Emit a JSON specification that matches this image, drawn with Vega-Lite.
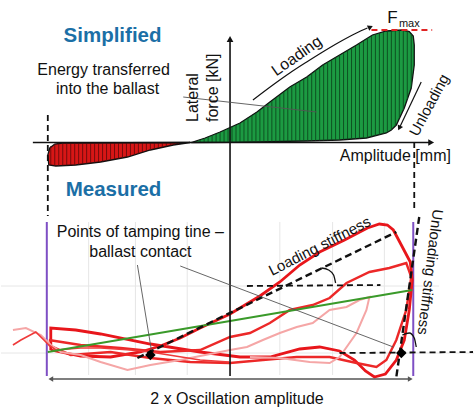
{
  "$schema": "https://vega.github.io/schema/vega-lite/v6.json",
  "width": 475,
  "height": 407,
  "autosize": {"type": "fit", "contains": "padding"},
  "padding": 0,
  "background": "white",
  "config": {"view": {"stroke": null}, "font": "Liberation Sans"},
  "datasets": {
    "grid": [
      {"x": 88, "y": 222, "x2": 88, "y2": 375},
      {"x": 135, "y": 222, "x2": 135, "y2": 375},
      {"x": 187, "y": 222, "x2": 187, "y2": 375},
      {"x": 280, "y": 222, "x2": 280, "y2": 375},
      {"x": 333, "y": 222, "x2": 333, "y2": 375},
      {"x": 385, "y": 222, "x2": 385, "y2": 375},
      {"x": 0, "y": 286, "x2": 440, "y2": 286},
      {"x": 0, "y": 353, "x2": 475, "y2": 353}
    ],
    "green": [
      {"x": 191, "y": 142.5}, {"x": 205, "y": 138}, {"x": 220, "y": 132}, {"x": 240, "y": 123},
      {"x": 257, "y": 112}, {"x": 270, "y": 102}, {"x": 290, "y": 87}, {"x": 307, "y": 77},
      {"x": 323, "y": 65}, {"x": 340, "y": 55}, {"x": 357, "y": 45}, {"x": 373, "y": 35},
      {"x": 387, "y": 31}, {"x": 403, "y": 30}, {"x": 410, "y": 31.5}, {"x": 414, "y": 36},
      {"x": 415, "y": 45}, {"x": 415, "y": 65}, {"x": 412, "y": 88}, {"x": 405, "y": 108},
      {"x": 397, "y": 125}, {"x": 392, "y": 130}, {"x": 387, "y": 133}, {"x": 367, "y": 138},
      {"x": 340, "y": 140}, {"x": 307, "y": 141}, {"x": 270, "y": 141.7}, {"x": 230, "y": 142.3},
      {"x": 191, "y": 142.5}
    ],
    "greenHatch": [
      {"x": 196, "y": 140.9, "y2": 142.4}, {"x": 200, "y": 139.6, "y2": 142.4}, {"x": 204, "y": 138.3, "y2": 142.4},
      {"x": 208, "y": 136.8, "y2": 142.4}, {"x": 212, "y": 135.2, "y2": 142.4}, {"x": 216, "y": 133.6, "y2": 142.4},
      {"x": 220, "y": 132, "y2": 142.4}, {"x": 224, "y": 130.2, "y2": 142.4}, {"x": 228, "y": 128.4, "y2": 142.4},
      {"x": 232, "y": 126.6, "y2": 142.3}, {"x": 236, "y": 124.8, "y2": 142.2}, {"x": 240, "y": 123, "y2": 142.2},
      {"x": 244, "y": 120.4, "y2": 142.1}, {"x": 248, "y": 117.8, "y2": 142}, {"x": 252, "y": 115.2, "y2": 142},
      {"x": 256, "y": 112.6, "y2": 141.9}, {"x": 260, "y": 109.7, "y2": 141.9}, {"x": 264, "y": 106.6, "y2": 141.8},
      {"x": 268, "y": 103.5, "y2": 141.7}, {"x": 272, "y": 100.5, "y2": 141.7}, {"x": 276, "y": 97.5, "y2": 141.6},
      {"x": 280, "y": 94.5, "y2": 141.5}, {"x": 284, "y": 91.5, "y2": 141.4}, {"x": 288, "y": 88.5, "y2": 141.4},
      {"x": 292, "y": 85.8, "y2": 141.3}, {"x": 296, "y": 83.5, "y2": 141.2}, {"x": 300, "y": 81.1, "y2": 141.1},
      {"x": 304, "y": 78.8, "y2": 141.1}, {"x": 308, "y": 76.3, "y2": 141}, {"x": 312, "y": 73.3, "y2": 140.8},
      {"x": 316, "y": 70.3, "y2": 140.7}, {"x": 320, "y": 67.3, "y2": 140.6}, {"x": 324, "y": 64.4, "y2": 140.5},
      {"x": 328, "y": 62.1, "y2": 140.4}, {"x": 332, "y": 59.7, "y2": 140.2}, {"x": 336, "y": 57.4, "y2": 140.1},
      {"x": 340, "y": 55, "y2": 140}, {"x": 344, "y": 52.6, "y2": 139.7}, {"x": 348, "y": 50.3, "y2": 139.4},
      {"x": 352, "y": 48, "y2": 139.1}, {"x": 356, "y": 45.6, "y2": 138.8}, {"x": 360, "y": 43.1, "y2": 138.5},
      {"x": 364, "y": 40.6, "y2": 138.2}, {"x": 368, "y": 38.1, "y2": 137.8}, {"x": 372, "y": 35.6, "y2": 136.8},
      {"x": 376, "y": 34.1, "y2": 135.8}, {"x": 380, "y": 33, "y2": 134.8}, {"x": 384, "y": 31.9, "y2": 133.8},
      {"x": 388, "y": 30.9, "y2": 132.4}, {"x": 392, "y": 30.7, "y2": 130}, {"x": 396, "y": 30.4, "y2": 126},
      {"x": 400, "y": 30.2, "y2": 118.6}, {"x": 404, "y": 30.2, "y2": 110.1}, {"x": 408, "y": 31.1, "y2": 99.4},
      {"x": 412, "y": 33.8, "y2": 88}
    ],
    "red": [
      {"x": 190, "y": 142.5}, {"x": 173, "y": 145}, {"x": 150, "y": 150}, {"x": 127, "y": 157},
      {"x": 100, "y": 162}, {"x": 75, "y": 165}, {"x": 55, "y": 166}, {"x": 48, "y": 165},
      {"x": 47, "y": 155}, {"x": 49, "y": 148}, {"x": 54, "y": 144}, {"x": 62, "y": 143},
      {"x": 190, "y": 142.5}
    ],
    "redHatch": [
      {"x": 50, "y": 146, "y2": 165.3}, {"x": 54, "y": 144, "y2": 165.9}, {"x": 58, "y": 143.3, "y2": 165.9},
      {"x": 62, "y": 143, "y2": 165.6}, {"x": 66, "y": 143, "y2": 165.5}, {"x": 70, "y": 143, "y2": 165.3},
      {"x": 74, "y": 143, "y2": 165.1}, {"x": 78, "y": 143, "y2": 164.6}, {"x": 82, "y": 143, "y2": 164.2},
      {"x": 86, "y": 143, "y2": 163.7}, {"x": 90, "y": 143, "y2": 163.2}, {"x": 94, "y": 143, "y2": 162.7},
      {"x": 98, "y": 143, "y2": 162.2}, {"x": 102, "y": 143, "y2": 161.6}, {"x": 106, "y": 143, "y2": 160.9},
      {"x": 110, "y": 143, "y2": 160.1}, {"x": 114, "y": 143, "y2": 159.4}, {"x": 118, "y": 143, "y2": 158.7},
      {"x": 122, "y": 143, "y2": 157.9}, {"x": 126, "y": 143, "y2": 157.2}, {"x": 130, "y": 143, "y2": 156.1},
      {"x": 134, "y": 143, "y2": 154.9}, {"x": 138, "y": 143, "y2": 153.7}, {"x": 142, "y": 143, "y2": 152.4},
      {"x": 146, "y": 143, "y2": 151.2}, {"x": 150, "y": 143, "y2": 150}, {"x": 154, "y": 143, "y2": 149.1},
      {"x": 158, "y": 143, "y2": 148.3}, {"x": 162, "y": 143, "y2": 147.4}, {"x": 166, "y": 143, "y2": 146.5},
      {"x": 170, "y": 143, "y2": 145.7}, {"x": 174, "y": 143, "y2": 144.9}, {"x": 178, "y": 143, "y2": 144.5}
    ],
    "axes": [
      {"x": 32, "y": 142.5, "x2": 430, "y2": 142.5},
      {"x": 230, "y": 376, "x2": 230, "y2": 41}
    ],
    "dashed": [
      {"x": 47, "y": 115, "x2": 47, "y2": 216},
      {"x": 415, "y": 142, "x2": 415, "y2": 212},
      {"x": 247, "y": 286, "x2": 381, "y2": 285},
      {"x": 340, "y": 353, "x2": 474, "y2": 352}
    ],
    "dashedThick": [
      {"x": 137, "y": 358, "x2": 397, "y2": 232},
      {"x": 420, "y": 217, "x2": 397, "y2": 377}
    ],
    "fmax": [
      {"x": 372, "y": 30, "x2": 433, "y2": 30}
    ],
    "purple": [
      {"x": 46, "y": 222, "x2": 46, "y2": 376},
      {"x": 414, "y": 222, "x2": 414, "y2": 376}
    ],
    "greenLine": [
      {"x": 47, "y": 352, "x2": 413, "y2": 290}
    ],
    "leaders": [
      {"x": 183, "y": 97, "x2": 317, "y2": 112},
      {"x": 137, "y": 265, "x2": 151, "y2": 350},
      {"x": 180, "y": 266, "x2": 394, "y2": 347}
    ],
    "span": [
      {"x": 50, "y": 379, "x2": 410, "y2": 379}
    ],
    "arrowLines": [
      {"x": 422, "y": 82, "x2": 401, "y2": 126}
    ],
    "loadArrow": [
      {"x": 253, "y": 100}, {"x": 273, "y": 85}, {"x": 290, "y": 73}, {"x": 307, "y": 62},
      {"x": 323, "y": 52}, {"x": 340, "y": 42}, {"x": 357, "y": 33}, {"x": 368, "y": 28}
    ],
    "arcs": [
      {"s": "a1", "x": 322, "y": 268}, {"s": "a1", "x": 329, "y": 270}, {"s": "a1", "x": 334, "y": 275}, {"s": "a1", "x": 336, "y": 283},
      {"s": "a2", "x": 403, "y": 335}, {"s": "a2", "x": 410, "y": 333}, {"s": "a2", "x": 415, "y": 338}, {"s": "a2", "x": 417, "y": 347}
    ],
    "curves": [
      {"s": "a", "x": 50, "y": 350}, {"s": "a", "x": 50, "y": 328}, {"s": "a", "x": 75, "y": 330},
      {"s": "a", "x": 100, "y": 334}, {"s": "a", "x": 150, "y": 344}, {"s": "a", "x": 200, "y": 352},
      {"s": "a", "x": 240, "y": 357}, {"s": "a", "x": 270, "y": 357}, {"s": "a", "x": 300, "y": 349},
      {"s": "a", "x": 320, "y": 347}, {"s": "a", "x": 340, "y": 351}, {"s": "a", "x": 355, "y": 360},
      {"s": "a", "x": 366, "y": 371}, {"s": "a", "x": 375, "y": 377}, {"s": "a", "x": 386, "y": 374},
      {"s": "a", "x": 397, "y": 360}, {"s": "a", "x": 405, "y": 340}, {"s": "a", "x": 410, "y": 310},
      {"s": "a", "x": 413, "y": 280}, {"s": "a", "x": 411, "y": 262}, {"s": "a", "x": 402, "y": 245},
      {"s": "a", "x": 394, "y": 230}, {"s": "a", "x": 388, "y": 225}, {"s": "a", "x": 380, "y": 224},
      {"s": "a", "x": 368, "y": 228}, {"s": "a", "x": 345, "y": 240}, {"s": "a", "x": 320, "y": 252},
      {"s": "a", "x": 300, "y": 265}, {"s": "a", "x": 280, "y": 282}, {"s": "a", "x": 260, "y": 296},
      {"s": "a", "x": 240, "y": 308}, {"s": "a", "x": 230, "y": 314}, {"s": "a", "x": 200, "y": 328},
      {"s": "a", "x": 180, "y": 338}, {"s": "a", "x": 160, "y": 346}, {"s": "a", "x": 140, "y": 352},
      {"s": "a", "x": 110, "y": 357}, {"s": "a", "x": 80, "y": 356}, {"s": "a", "x": 50, "y": 350},
      {"s": "b", "x": 48, "y": 340}, {"s": "b", "x": 80, "y": 345}, {"s": "b", "x": 120, "y": 348},
      {"s": "b", "x": 160, "y": 352}, {"s": "b", "x": 200, "y": 350}, {"s": "b", "x": 230, "y": 337},
      {"s": "b", "x": 250, "y": 333}, {"s": "b", "x": 270, "y": 323}, {"s": "b", "x": 290, "y": 310},
      {"s": "b", "x": 313, "y": 305}, {"s": "b", "x": 330, "y": 298}, {"s": "b", "x": 347, "y": 283},
      {"s": "b", "x": 370, "y": 272}, {"s": "b", "x": 390, "y": 268}, {"s": "b", "x": 407, "y": 263},
      {"s": "b", "x": 412, "y": 277}, {"s": "b", "x": 407, "y": 310}, {"s": "b", "x": 397, "y": 340},
      {"s": "b", "x": 387, "y": 360}, {"s": "b", "x": 377, "y": 367}, {"s": "b", "x": 357, "y": 363},
      {"s": "b", "x": 330, "y": 357}, {"s": "b", "x": 297, "y": 357}, {"s": "b", "x": 263, "y": 360},
      {"s": "b", "x": 230, "y": 363}, {"s": "b", "x": 190, "y": 362}, {"s": "b", "x": 150, "y": 358},
      {"s": "b", "x": 110, "y": 352}, {"s": "b", "x": 70, "y": 355}, {"s": "b", "x": 48, "y": 345},
      {"s": "c", "x": 12, "y": 330}, {"s": "c", "x": 25, "y": 328}, {"s": "c", "x": 40, "y": 335},
      {"s": "c", "x": 50, "y": 345}, {"s": "c", "x": 60, "y": 352}, {"s": "c", "x": 80, "y": 355},
      {"s": "c", "x": 100, "y": 362}, {"s": "c", "x": 127, "y": 370}, {"s": "c", "x": 150, "y": 365},
      {"s": "c", "x": 180, "y": 360}, {"s": "c", "x": 230, "y": 350}, {"s": "c", "x": 247, "y": 347},
      {"s": "c", "x": 263, "y": 340}, {"s": "c", "x": 280, "y": 333}, {"s": "c", "x": 297, "y": 327},
      {"s": "c", "x": 313, "y": 323}, {"s": "c", "x": 330, "y": 310}, {"s": "c", "x": 347, "y": 307},
      {"s": "c", "x": 360, "y": 300}, {"s": "c", "x": 370, "y": 297}, {"s": "c", "x": 367, "y": 310},
      {"s": "c", "x": 357, "y": 333}, {"s": "c", "x": 340, "y": 357}, {"s": "c", "x": 330, "y": 363},
      {"s": "c", "x": 310, "y": 362}, {"s": "c", "x": 280, "y": 358}, {"s": "c", "x": 250, "y": 357},
      {"s": "d", "x": 12, "y": 345}, {"s": "d", "x": 20, "y": 340}, {"s": "d", "x": 35, "y": 332},
      {"s": "d", "x": 48, "y": 345}, {"s": "d", "x": 55, "y": 350}, {"s": "d", "x": 80, "y": 348},
      {"s": "d", "x": 100, "y": 348}, {"s": "d", "x": 130, "y": 350}, {"s": "d", "x": 150, "y": 352},
      {"s": "d", "x": 175, "y": 356}, {"s": "d", "x": 200, "y": 360}, {"s": "d", "x": 229, "y": 362}
    ],
    "diamonds": [
      {"x": 150, "y": 355}, {"x": 402, "y": 353}
    ],
    "titles": [
      {"t": "Simplified", "x": 112, "y": 36},
      {"t": "Measured", "x": 113, "y": 190}
    ],
    "labels": [
      {"t": "Energy transferred", "x": 103, "y": 70},
      {"t": "into the ballast", "x": 107, "y": 89},
      {"t": "Amplitude [mm]", "x": 396, "y": 156},
      {"t": "Points of tamping tine –", "x": 140, "y": 232},
      {"t": "ballast contact", "x": 140, "y": 252},
      {"t": "2 x Oscillation amplitude", "x": 237, "y": 399}
    ],
    "fText": [
      {"t": "F", "x": 393, "y": 18}
    ],
    "maxText": [
      {"t": "max", "x": 410, "y": 24}
    ],
    "vertLabels": [
      {"t": "Lateral", "x": 193, "y": 122},
      {"t": "force [kN]", "x": 213, "y": 122}
    ],
    "loadingText": [{"t": "Loading", "x": 297, "y": 56}],
    "unloadingText": [{"t": "Unloading", "x": 430, "y": 105}],
    "loadStiffText": [{"t": "Loading stiffness", "x": 320, "y": 246}],
    "unloadStiffText": [{"t": "Unloading stiffness", "x": 431, "y": 272}]
  },
  "encoding": {
    "x": {"field": "x", "type": "quantitative", "scale": {"domain": [0, 475], "nice": false, "zero": false}, "axis": null},
    "y": {"field": "y", "type": "quantitative", "scale": {"domain": [0, 407], "reverse": true, "nice": false, "zero": false}, "axis": null}
  },
  "layer": [
    {"data": {"name": "grid"}, "mark": {"type": "rule", "stroke": "#e6e6e6", "strokeWidth": 1},
     "encoding": {"x2": {"field": "x2"}, "y2": {"field": "y2"}}},
    {"data": {"name": "green"}, "mark": {"type": "line", "fill": "#1c9a42", "stroke": "#111", "strokeWidth": 1.3},
     "encoding": {"order": {"value": null}}},
    {"data": {"name": "greenHatch"}, "mark": {"type": "rule", "stroke": "#0c4a1e", "strokeWidth": 0.9},
     "encoding": {"y2": {"field": "y2"}}},
    {"data": {"name": "red"}, "mark": {"type": "line", "fill": "#d71616", "stroke": "#111", "strokeWidth": 1.3},
     "encoding": {"order": {"value": null}}},
    {"data": {"name": "redHatch"}, "mark": {"type": "rule", "stroke": "#5a0a0a", "strokeWidth": 0.8},
     "encoding": {"y2": {"field": "y2"}}},
    {"data": {"name": "purple"}, "mark": {"type": "rule", "stroke": "#7e4fc4", "strokeWidth": 2},
     "encoding": {"x2": {"field": "x2"}, "y2": {"field": "y2"}}},
    {"data": {"name": "curves"}, "mark": {"type": "line", "interpolate": "linear"},
     "encoding": {
       "order": {"value": null},
       "detail": {"field": "s"},
       "color": {"field": "s", "type": "nominal", "scale": {"domain": ["a", "b", "c", "d"], "range": ["#e8161b", "#ec2828", "#f5a6a6", "#ef3a3a"]}, "legend": null},
       "strokeWidth": {"field": "s", "type": "nominal", "scale": {"domain": ["a", "b", "c", "d"], "range": [2.8, 1.6, 1.2, 1.5]}, "legend": null}
     }},
    {"data": {"name": "greenLine"}, "mark": {"type": "rule", "stroke": "#3a9a2a", "strokeWidth": 2},
     "encoding": {"x2": {"field": "x2"}, "y2": {"field": "y2"}}},
    {"data": {"name": "axes"}, "mark": {"type": "rule", "stroke": "#111", "strokeWidth": 1.6},
     "encoding": {"x2": {"field": "x2"}, "y2": {"field": "y2"}}},
    {"data": {"values": [{"x": 432, "y": 142.5}]}, "mark": {"type": "point", "shape": "triangle-right", "filled": true, "color": "#111", "size": 45, "opacity": 1}},
    {"data": {"values": [{"x": 230, "y": 39}]}, "mark": {"type": "point", "shape": "triangle-up", "filled": true, "color": "#111", "size": 45, "opacity": 1}},
    {"data": {"name": "dashed"}, "mark": {"type": "rule", "stroke": "#111", "strokeWidth": 1.8, "strokeDash": [6, 4]},
     "encoding": {"x2": {"field": "x2"}, "y2": {"field": "y2"}}},
    {"data": {"name": "dashedThick"}, "mark": {"type": "rule", "stroke": "#111", "strokeWidth": 2.4, "strokeDash": [7, 4]},
     "encoding": {"x2": {"field": "x2"}, "y2": {"field": "y2"}}},
    {"data": {"name": "fmax"}, "mark": {"type": "rule", "stroke": "#e02424", "strokeWidth": 2, "strokeDash": [6, 4]},
     "encoding": {"x2": {"field": "x2"}, "y2": {"field": "y2"}}},
    {"data": {"name": "leaders"}, "mark": {"type": "rule", "stroke": "#555", "strokeWidth": 0.9},
     "encoding": {"x2": {"field": "x2"}, "y2": {"field": "y2"}}},
    {"data": {"name": "span"}, "mark": {"type": "rule", "stroke": "#555", "strokeWidth": 1.3},
     "encoding": {"x2": {"field": "x2"}, "y2": {"field": "y2"}}},
    {"data": {"values": [{"x": 50, "y": 379}]}, "mark": {"type": "point", "shape": "triangle-left", "filled": true, "color": "#555", "size": 30, "opacity": 1}},
    {"data": {"values": [{"x": 411, "y": 379}]}, "mark": {"type": "point", "shape": "triangle-right", "filled": true, "color": "#555", "size": 30, "opacity": 1}},
    {"data": {"name": "loadArrow"}, "mark": {"type": "line", "stroke": "#111", "strokeWidth": 1.2, "interpolate": "monotone"},
     "encoding": {"order": {"value": null}}},
    {"data": {"values": [{"x": 371, "y": 27}]}, "mark": {"type": "point", "shape": "triangle-right", "filled": true, "color": "#111", "size": 35, "angle": -25, "opacity": 1}},
    {"data": {"name": "arrowLines"}, "mark": {"type": "rule", "stroke": "#111", "strokeWidth": 1.2},
     "encoding": {"x2": {"field": "x2"}, "y2": {"field": "y2"}}},
    {"data": {"values": [{"x": 400, "y": 128}]}, "mark": {"type": "point", "shape": "triangle-right", "filled": true, "color": "#111", "size": 35, "angle": 115, "opacity": 1}},
    {"data": {"name": "arcs"}, "mark": {"type": "line", "stroke": "#111", "strokeWidth": 1.3, "interpolate": "monotone"},
     "encoding": {"order": {"value": null}, "detail": {"field": "s"}}},
    {"data": {"name": "diamonds"}, "mark": {"type": "point", "shape": "diamond", "filled": true, "color": "#000", "size": 110, "opacity": 1}},
    {"data": {"name": "titles"}, "mark": {"type": "text", "fontSize": 20.5, "fontWeight": "bold", "color": "#1b6fa6", "align": "center", "baseline": "middle"},
     "encoding": {"text": {"field": "t"}}},
    {"data": {"name": "labels"}, "mark": {"type": "text", "fontSize": 16, "color": "#111", "align": "center", "baseline": "middle"},
     "encoding": {"text": {"field": "t"}}},
    {"data": {"name": "fText"}, "mark": {"type": "text", "fontSize": 17, "color": "#111", "align": "center", "baseline": "middle"},
     "encoding": {"text": {"field": "t"}}},
    {"data": {"name": "maxText"}, "mark": {"type": "text", "fontSize": 11, "color": "#111", "align": "center", "baseline": "middle"},
     "encoding": {"text": {"field": "t"}}},
    {"data": {"name": "vertLabels"}, "mark": {"type": "text", "fontSize": 16, "color": "#111", "align": "left", "baseline": "middle", "angle": 270},
     "encoding": {"text": {"field": "t"}}},
    {"data": {"name": "loadingText"}, "mark": {"type": "text", "fontSize": 16, "color": "#111", "align": "center", "baseline": "middle", "angle": 325},
     "encoding": {"text": {"field": "t"}}},
    {"data": {"name": "unloadingText"}, "mark": {"type": "text", "fontSize": 15, "color": "#111", "align": "center", "baseline": "middle", "angle": 298},
     "encoding": {"text": {"field": "t"}}},
    {"data": {"name": "loadStiffText"}, "mark": {"type": "text", "fontSize": 15, "color": "#111", "align": "center", "baseline": "middle", "angle": 333},
     "encoding": {"text": {"field": "t"}}},
    {"data": {"name": "unloadStiffText"}, "mark": {"type": "text", "fontSize": 15, "color": "#111", "align": "center", "baseline": "middle", "angle": 97},
     "encoding": {"text": {"field": "t"}}}
  ]
}
